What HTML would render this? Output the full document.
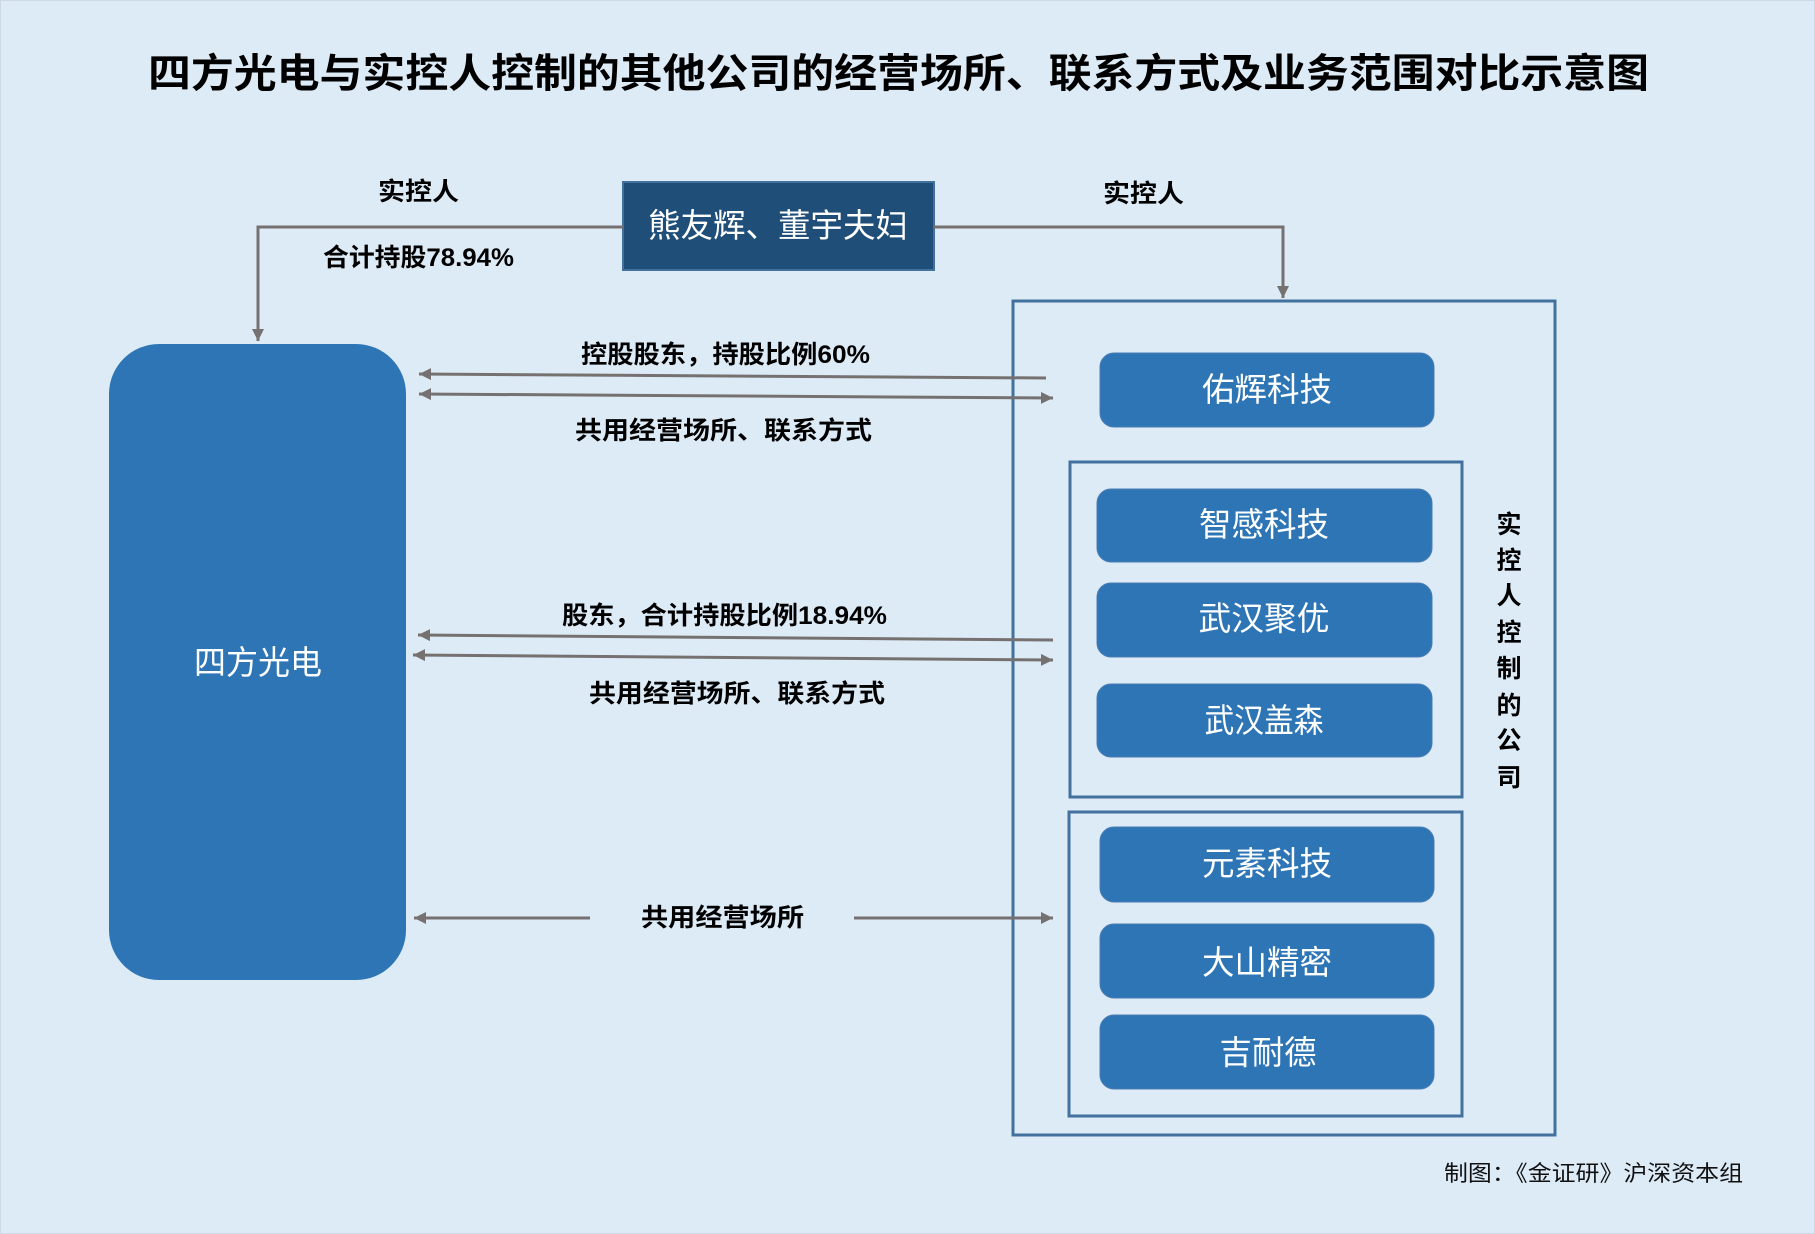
<!DOCTYPE html>
<html>
<head>
<meta charset="utf-8">
<style>
  html, body { margin: 0; padding: 0; background: #ddebf7; }
  svg { display: block; }
  .lbl { font-family: "Liberation Sans", "Noto Sans CJK SC", sans-serif; font-weight: 700; font-size: 25px; fill: #000; }
  .box { font-family: "Liberation Sans", "Noto Sans CJK SC", sans-serif; font-weight: 400; font-size: 33px; fill: #fff; }
</style>
</head>
<body>
<svg width="1815" height="1234" viewBox="0 0 1815 1234" xmlns="http://www.w3.org/2000/svg">
  <defs>
    <marker id="ah" viewBox="0 0 10 10" refX="10" refY="5" markerWidth="4" markerHeight="4" orient="auto-start-reverse" markerUnits="strokeWidth">
      <path d="M0,0 L10,5 L0,10 z" fill="#767171"/>
    </marker>
  </defs>
  <rect x="0" y="0" width="1815" height="1234" fill="#ddebf7"/>
  <rect x="0.5" y="0.5" width="1814" height="1233" fill="none" stroke="#cdd9e6" stroke-width="1"/>

  <!-- Title -->
  <text x="148" y="87" font-family="Liberation Sans, Noto Sans CJK SC, sans-serif" font-weight="700" font-size="40" fill="#000" textLength="1501" lengthAdjust="spacingAndGlyphs">四方光电与实控人控制的其他公司的经营场所、联系方式及业务范围对比示意图</text>

  <!-- Top node -->
  <rect x="623" y="182" width="311" height="88" fill="#1f4e79" stroke="#41719c" stroke-width="2"/>
  <text class="box" x="778" y="237" text-anchor="middle" textLength="260" lengthAdjust="spacingAndGlyphs">熊友辉、董宇夫妇</text>

  <!-- Top connectors -->
  <polyline points="623,227 258,227 258,341" fill="none" stroke="#767171" stroke-width="3" marker-end="url(#ah)"/>
  <polyline points="934,227 1283,227 1283,298" fill="none" stroke="#767171" stroke-width="3" marker-end="url(#ah)"/>

  <text class="lbl" x="378" y="200" textLength="81" lengthAdjust="spacingAndGlyphs">实控人</text>
  <text class="lbl" x="323" y="266" textLength="191" lengthAdjust="spacingAndGlyphs">合计持股78.94%</text>
  <text class="lbl" x="1103" y="202" textLength="81" lengthAdjust="spacingAndGlyphs">实控人</text>

  <!-- Left big node -->
  <rect x="109" y="344" width="297" height="636" rx="50" ry="50" fill="#2e75b6"/>
  <text class="box" x="258" y="674" text-anchor="middle" textLength="128" lengthAdjust="spacingAndGlyphs">四方光电</text>

  <!-- Outer container -->
  <rect x="1013" y="301" width="542" height="834" fill="none" stroke="#41719c" stroke-width="3"/>
  <!-- Inner boxes -->
  <rect x="1070" y="462" width="392" height="335" fill="none" stroke="#41719c" stroke-width="3"/>
  <rect x="1069" y="812" width="393" height="304" fill="none" stroke="#41719c" stroke-width="3"/>

  <!-- Company boxes -->
  <rect x="1100" y="353" width="334" height="74" rx="14" ry="14" fill="#2e75b6" stroke="#4a7db3" stroke-width="1"/>
  <text class="box" x="1267" y="401" text-anchor="middle" textLength="130" lengthAdjust="spacingAndGlyphs">佑辉科技</text>

  <rect x="1097" y="489" width="335" height="73" rx="14" ry="14" fill="#2e75b6" stroke="#4a7db3" stroke-width="1"/>
  <text class="box" x="1264" y="536" text-anchor="middle" textLength="130" lengthAdjust="spacingAndGlyphs">智感科技</text>

  <rect x="1097" y="583" width="335" height="74" rx="14" ry="14" fill="#2e75b6" stroke="#4a7db3" stroke-width="1"/>
  <text class="box" x="1264" y="630" text-anchor="middle" textLength="131" lengthAdjust="spacingAndGlyphs">武汉聚优</text>

  <rect x="1097" y="684" width="335" height="73" rx="14" ry="14" fill="#2e75b6" stroke="#4a7db3" stroke-width="1"/>
  <text class="box" x="1264" y="732" text-anchor="middle" textLength="119" lengthAdjust="spacingAndGlyphs">武汉盖森</text>

  <rect x="1100" y="827" width="334" height="75" rx="14" ry="14" fill="#2e75b6" stroke="#4a7db3" stroke-width="1"/>
  <text class="box" x="1267" y="875" text-anchor="middle" textLength="130" lengthAdjust="spacingAndGlyphs">元素科技</text>

  <rect x="1100" y="924" width="334" height="74" rx="14" ry="14" fill="#2e75b6" stroke="#4a7db3" stroke-width="1"/>
  <text class="box" x="1267" y="974" text-anchor="middle" textLength="130" lengthAdjust="spacingAndGlyphs">大山精密</text>

  <rect x="1100" y="1015" width="334" height="74" rx="14" ry="14" fill="#2e75b6" stroke="#4a7db3" stroke-width="1"/>
  <text class="box" x="1268" y="1064" text-anchor="middle" textLength="97" lengthAdjust="spacingAndGlyphs">吉耐德</text>

  <!-- Vertical label -->
  <g class="lbl" text-anchor="middle">
    <text x="1509" y="533">实</text>
    <text x="1509" y="569">控</text>
    <text x="1509" y="604">人</text>
    <text x="1509" y="641">控</text>
    <text x="1509" y="677">制</text>
    <text x="1509" y="714">的</text>
    <text x="1509" y="749">公</text>
    <text x="1509" y="786">司</text>
  </g>

  <!-- Group 1 arrows -->
  <line x1="1046" y1="378" x2="419" y2="374" stroke="#767171" stroke-width="3" marker-end="url(#ah)"/>
  <line x1="419" y1="394" x2="1053" y2="398" stroke="#767171" stroke-width="3" marker-start="url(#ah)" marker-end="url(#ah)"/>
  <text class="lbl" x="581" y="363" textLength="289" lengthAdjust="spacingAndGlyphs">控股股东，持股比例60%</text>
  <text class="lbl" x="575" y="439" textLength="297" lengthAdjust="spacingAndGlyphs">共用经营场所、联系方式</text>

  <!-- Group 2 arrows -->
  <line x1="1053" y1="640" x2="418" y2="635" stroke="#767171" stroke-width="3" marker-end="url(#ah)"/>
  <line x1="413" y1="655" x2="1053" y2="660" stroke="#767171" stroke-width="3" marker-start="url(#ah)" marker-end="url(#ah)"/>
  <text class="lbl" x="562" y="624" textLength="325" lengthAdjust="spacingAndGlyphs">股东，合计持股比例18.94%</text>
  <text class="lbl" x="589" y="702" textLength="296" lengthAdjust="spacingAndGlyphs">共用经营场所、联系方式</text>

  <!-- Group 3 arrows -->
  <line x1="590" y1="918" x2="414" y2="918" stroke="#767171" stroke-width="3" marker-end="url(#ah)"/>
  <line x1="854" y1="918" x2="1053" y2="918" stroke="#767171" stroke-width="3" marker-end="url(#ah)"/>
  <text class="lbl" x="641" y="926" textLength="163" lengthAdjust="spacingAndGlyphs">共用经营场所</text>

  <!-- Footer -->
  <text x="1444" y="1181" font-family="Liberation Sans, Noto Sans CJK SC, sans-serif" font-weight="400" font-size="22" fill="#111" textLength="299" lengthAdjust="spacingAndGlyphs">制图：《金证研》沪深资本组</text>
</svg>
</body>
</html>
